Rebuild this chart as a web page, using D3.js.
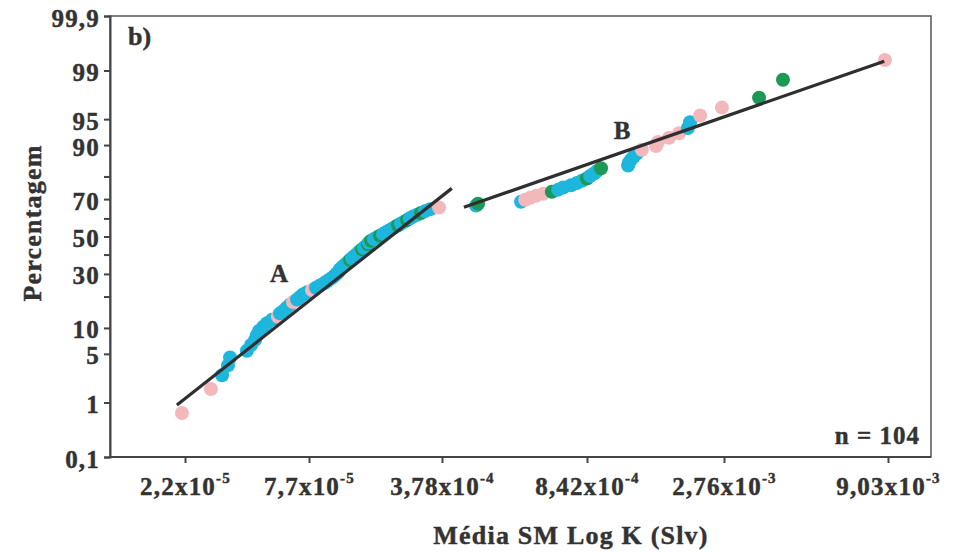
<!DOCTYPE html>
<html>
<head>
<meta charset="utf-8">
<script src="https://cdn.jsdelivr.net/npm/d3@7"></script>
<style>
  body { margin: 0; background: #fff; }
  text { font-family: "Liberation Serif", "Times New Roman", serif; font-weight: bold; fill: #333; stroke: #333; stroke-width: 0.45px; }
</style>
</head>
<body>
<svg id="chart" width="957" height="554"></svg>
<script>
// Mean log10 K (SM, Slv) of each sample, sorted ascending
const meanLogK = [
  -4.671, -4.544, -4.495, -4.469, -4.460, -4.386, -4.368, -4.350, -4.342, -4.333,
  -4.315, -4.298, -4.276, -4.250, -4.241, -4.223, -4.210, -4.197, -4.184, -4.166,
  -4.153, -4.140, -4.122, -4.098, -4.077, -4.056, -4.036, -4.020, -4.004, -3.989,
  -3.978, -3.968, -3.958, -3.952, -3.942, -3.932, -3.921, -3.911, -3.900, -3.890,
  -3.880, -3.869, -3.859, -3.849, -3.838, -3.828, -3.817, -3.807, -3.802, -3.791,
  -3.776, -3.760, -3.745, -3.729, -3.714, -3.698, -3.682, -3.667, -3.651, -3.636,
  -3.620, -3.604, -3.589, -3.573, -3.552, -3.532, -3.511, -3.485, -3.438, -3.341,
  -3.336, -3.233, -3.223, -3.211, -3.197, -3.180, -3.159, -3.144, -3.132, -3.113,
  -3.099, -3.087, -3.075, -3.063, -3.048, -3.037, -3.022, -2.920, -2.917, -2.909,
  -2.898, -2.887, -2.868, -2.815, -2.808, -2.766, -2.728, -2.695, -2.687, -2.649,
  -2.567, -2.449, -2.374, -2.054
];

// Cumulative percentage of each sample
const cumulativePct = [
  0.67, 1.63, 2.59, 3.54, 4.50, 5.46, 6.42, 7.38, 8.33, 9.29,
  10.25, 11.21, 12.16, 13.12, 14.08, 15.04, 16.00, 16.95, 17.91, 18.87,
  19.83, 20.79, 21.74, 22.70, 23.66, 24.62, 25.57, 26.53, 27.49, 28.45,
  29.41, 30.36, 31.32, 32.28, 33.24, 34.20, 35.15, 36.11, 37.07, 38.03,
  38.98, 39.94, 40.90, 41.86, 42.82, 43.77, 44.73, 45.69, 46.65, 47.61,
  48.56, 49.52, 50.48, 51.44, 52.39, 53.35, 54.31, 55.27, 56.23, 57.18,
  58.14, 59.10, 60.06, 61.02, 61.97, 62.93, 63.89, 64.85, 65.80, 66.76,
  67.72, 68.68, 69.64, 70.59, 71.55, 72.51, 73.47, 74.43, 75.38, 76.34,
  77.30, 78.26, 79.21, 80.17, 81.13, 82.09, 83.05, 84.00, 84.96, 85.92,
  86.88, 87.84, 88.79, 89.75, 90.71, 91.67, 92.62, 93.58, 94.54, 95.50,
  96.46, 97.41, 98.60, 99.33
];

// Group of each sample: p = pink, b = blue, g = green
const sampleGroup = [
  "p","p","b","b","b","b","b","b","b","b",
  "b","b","b","p","b","b","b","b","p","b",
  "b","b","b","p","b","b","b","b","b","b",
  "b","b","b","b","b","b","b","b","g","b",
  "b","b","b","b","g","b","b","g","b","g",
  "b","b","g","b","b","b","b","b","g","b",
  "b","g","b","b","b","g","b","b","p","b",
  "g","b","p","p","p","p","g","b","b","b",
  "b","b","g","b","b","b","g","b","b","b",
  "b","b","p","p","p","p","p","b","b","p",
  "p","g","g","p"
];
const groupColor = { p: "#f3b8bb", b: "#1db6dd", g: "#1c9a55" };

// Fitted populations A and B (endpoints: log10 K, cumulative %)
const fitALogK = [-4.693, -3.399];
const fitAPct = [0.91, 75.0];
const fitBLogK = [-3.370, -2.056];
const fitBPct = [65.9, 99.30];

// Axis ticks
const xTickValues = [2.2e-5, 7.7e-5, 3.78e-4, 8.42e-4, 2.76e-3, 9.03e-3];
const xTickMantissa = ["2,2", "7,7", "3,78", "8,42", "2,76", "9,03"];
const xTickExponent = ["-5", "-5", "-4", "-4", "-3", "-3"];
const yTickValues = [0.1, 1, 5, 10, 30, 50, 70, 90, 95, 99, 99.9];
const yTickLabels = ["0,1", "1", "5", "10", "30", "50", "70", "90", "95", "99", "99,9"];
const yMinorTicks = [20, 40, 60, 80];

// Inverse standard normal CDF (Acklam)
function probit(p) {
  const a = [-3.969683028665376e+01, 2.209460984245205e+02, -2.759285104469687e+02, 1.383577518672690e+02, -3.066479806614716e+01, 2.506628277459239e+00];
  const b = [-5.447609879822406e+01, 1.615858368580409e+02, -1.556989798598866e+02, 6.680131188771972e+01, -1.328068155288572e+01];
  const c = [-7.784894002430293e-03, -3.223964580411365e-01, -2.400758287166297e+00, -2.549732953853150e+00, 4.374664141464968e+00, 2.938163982698783e+00];
  const d = [7.784695709041462e-03, 3.224671290700398e-01, 2.445134137142996e+00, 3.754408661907416e+00];
  const plow = 0.02425, phigh = 1 - plow;
  let q, r;
  if (p < plow) {
    q = Math.sqrt(-2 * Math.log(p));
    return (((((c[0]*q+c[1])*q+c[2])*q+c[3])*q+c[4])*q+c[5]) / ((((d[0]*q+d[1])*q+d[2])*q+d[3])*q+1);
  } else if (p <= phigh) {
    q = p - 0.5; r = q * q;
    return (((((a[0]*r+a[1])*r+a[2])*r+a[3])*r+a[4])*r+a[5])*q / (((((b[0]*r+b[1])*r+b[2])*r+b[3])*r+b[4])*r+1);
  } else {
    q = Math.sqrt(-2 * Math.log(1 - p));
    return -(((((c[0]*q+c[1])*q+c[2])*q+c[3])*q+c[4])*q+c[5]) / ((((d[0]*q+d[1])*q+d[2])*q+d[3])*q+1);
  }
}
const pz = pct => probit(pct / 100);

const svg = d3.select("#chart");
const frame = { left: 110, right: 931, top: 16, bottom: 457 };

// x: piecewise log axis anchored on the labelled K values
const x = d3.scaleLinear()
  .domain(xTickValues.map(Math.log10))
  .range([185, 309, 442, 587, 724, 888]);

// y: normal probability scale
const y = d3.scaleLinear()
  .domain([pz(0.1), pz(99.9)])
  .range([frame.bottom, frame.top]);

// frame border (top and right)
svg.append("rect")
  .attr("x", frame.left).attr("y", frame.top)
  .attr("width", frame.right - frame.left).attr("height", frame.bottom - frame.top)
  .attr("fill", "none").attr("stroke", "#555").attr("stroke-width", 1.5);

// y axis
const yAxis = svg.append("g")
  .attr("transform", `translate(${frame.left},0)`)
  .call(d3.axisLeft(y)
    .tickValues(yTickValues.map(pz))
    .tickFormat((d, i) => yTickLabels[i])
    .tickSize(6).tickPadding(4));
svg.append("g")
  .attr("transform", `translate(${frame.left},0)`)
  .call(d3.axisLeft(y).tickValues(yMinorTicks.map(pz)).tickFormat("").tickSize(6))
  .call(g => g.select(".domain").remove());

// x axis
const xAxis = svg.append("g")
  .attr("transform", `translate(0,${frame.bottom})`)
  .call(d3.axisBottom(x)
    .tickValues(xTickValues.map(Math.log10))
    .tickFormat("")
    .tickSize(6));
xAxis.select(".domain").attr("d", `M${frame.left},0H${frame.right}`);

svg.selectAll(".domain").attr("stroke", "#444").attr("stroke-width", 2);
svg.selectAll(".tick line").attr("stroke", "#444").attr("stroke-width", 2);

yAxis.selectAll(".tick text")
  .attr("fill", "#333")
  .style("font-size", "25px")
  .style("letter-spacing", "1.2px")
  .attr("dy", "0.4em");

const xLabels = xAxis.selectAll(".tick").append("text")
  .attr("y", 38)
  .attr("text-anchor", "middle")
  .style("font-size", "25px")
  .style("letter-spacing", "1.2px");
xLabels.append("tspan").text((d, i) => xTickMantissa[i] + "x10");
xLabels.append("tspan")
  .attr("dy", -12)
  .style("font-size", "15px")
  .text((d, i) => xTickExponent[i]);

// axis titles
svg.append("text")
  .attr("x", 571).attr("y", 544)
  .attr("text-anchor", "middle")
  .style("font-size", "26px").style("letter-spacing", "1.2px")
  .text("Média SM Log K (Slv)");
svg.append("text")
  .attr("transform", "translate(41,223) rotate(-90)")
  .attr("text-anchor", "middle")
  .style("font-size", "26px").style("letter-spacing", "1.2px")
  .text("Percentagem");

// panel letter, population labels, sample count
svg.append("text").attr("x", 128).attr("y", 45)
  .style("font-size", "26px").text("b)");
svg.append("text").attr("x", 279).attr("y", 282).attr("text-anchor", "middle")
  .style("font-size", "25px").text("A");
svg.append("text").attr("x", 622).attr("y", 139).attr("text-anchor", "middle")
  .style("font-size", "25px").text("B");
svg.append("text").attr("x", 920).attr("y", 444).attr("text-anchor", "end")
  .style("font-size", "25px").style("letter-spacing", "1px").text("n = 104");

// samples
const samples = meanLogK.map((k, i) => ({ k, pct: cumulativePct[i], g: sampleGroup[i] }));
svg.append("g").selectAll("circle")
  .data(samples)
  .join("circle")
  .attr("cx", d => x(d.k))
  .attr("cy", d => y(pz(d.pct)))
  .attr("r", 7)
  .attr("fill", d => groupColor[d.g]);

// fitted lines
const line = d3.line().x(d => x(d[0])).y(d => y(pz(d[1])));
[[fitALogK, fitAPct], [fitBLogK, fitBPct]].forEach(([ks, ps]) => {
  svg.append("path")
    .attr("d", line(ks.map((k, i) => [k, ps[i]])))
    .attr("fill", "none")
    .attr("stroke", "#2f2f2f")
    .attr("stroke-width", 3.2);
});
</script>
</body>
</html>
